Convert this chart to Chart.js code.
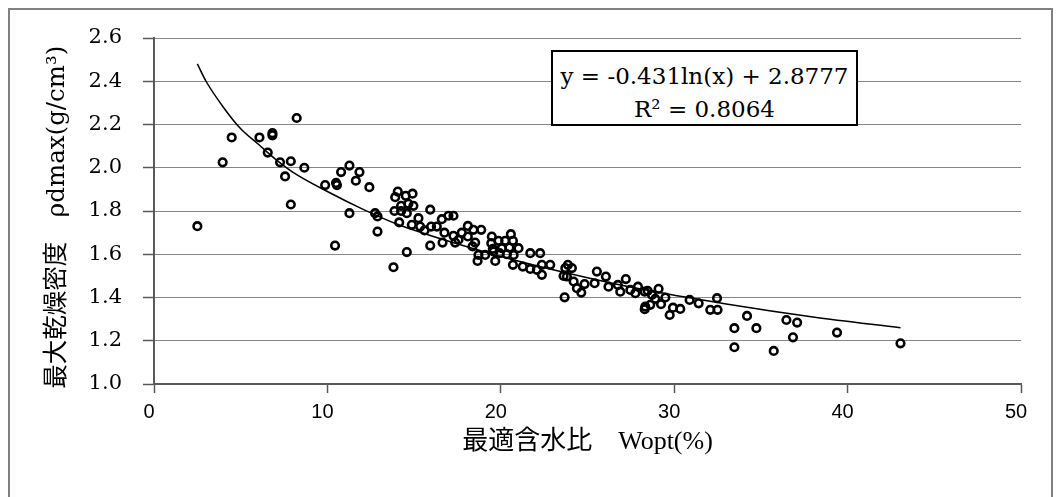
<!DOCTYPE html>
<html><head><meta charset="utf-8">
<script src="https://cdn.jsdelivr.net/npm/chart.js@4.4.0/dist/chart.umd.min.js"></script>
<style>
html,body{margin:0;padding:0;background:#fff;}
#wrap{position:relative;width:1061px;height:497px;overflow:hidden;background:#fff;}
#frame{position:absolute;left:8px;top:8px;width:1045px;height:495px;border:2px solid #808080;box-sizing:border-box;}
canvas{position:absolute;left:0;top:0;}
#eq{position:absolute;left:551px;top:50px;width:307px;height:76px;box-sizing:border-box;border:2px solid #000;background:#fff;font-family:'DejaVu Serif',serif;font-size:23px;line-height:33px;text-align:center;padding-top:8px;color:#000;white-space:nowrap;}
</style></head>
<body>
<div id="wrap">
<div id="frame"></div>
<canvas id="c" width="1061" height="497"></canvas>
<div id="eq"></div>
</div>
<script>
// Optimum water content Wopt (%)
const wopt = [2.5,3.96,4.48,6.08,6.56,6.83,6.83,7.27,7.56,7.89,
  7.89,8.23,8.67,9.87,10.44,10.5,10.55,10.79,11.27,11.27,
  11.64,11.85,12.42,12.75,12.89,12.89,13.81,13.87,13.91,14.06,
  14.14,14.25,14.25,14.52,14.58,14.58,14.67,14.87,14.91,14.96,
  15.25,15.35,15.6,15.93,15.93,15.98,16.31,16.6,16.64,16.75,
  16.98,17.27,17.27,17.37,17.56,17.75,18.1,18.1,18.37,18.42,
  18.52,18.66,18.71,18.87,19.1,19.45,19.48,19.54,19.58,19.68,
  19.87,19.93,20.06,20.25,20.35,20.5,20.58,20.7,20.74,20.7,
  21.02,21.27,21.7,21.7,22.08,22.27,22.37,22.37,22.85,23.62,
  23.68,23.72,23.81,23.87,24.1,24.2,24.39,24.64,24.83,25.41,
  25.54,26.06,26.21,26.75,26.89,27.21,27.47,27.76,27.91,28.3,
  28.3,28.33,28.47,28.62,28.72,28.91,29.1,29.24,29.49,29.74,
  29.93,30.35,30.89,31.41,32.08,32.47,32.5,33.47,33.47,34.2,
  34.74,35.74,36.47,36.85,37.09,39.39,43.05];
// Maximum dry density (g/cm3)
const rhoDmax = [1.73,2.025,2.14,2.14,2.07,2.16,2.15,2.025,1.96,2.03,
  1.83,2.23,2.0,1.92,1.64,1.93,1.92,1.98,2.01,1.79,
  1.94,1.98,1.91,1.79,1.775,1.705,1.54,1.80,1.864,1.89,
  1.747,1.824,1.80,1.87,1.79,1.61,1.833,1.736,1.88,1.824,
  1.767,1.728,1.71,1.806,1.64,1.728,1.728,1.762,1.654,1.70,
  1.778,1.778,1.685,1.654,1.667,1.70,1.731,1.682,1.636,1.713,
  1.654,1.569,1.597,1.713,1.597,1.651,1.682,1.625,1.613,1.569,
  1.662,1.605,1.628,1.662,1.60,1.631,1.693,1.662,1.597,1.551,
  1.628,1.543,1.605,1.532,1.528,1.605,1.551,1.505,1.551,1.50,
  1.401,1.536,1.497,1.551,1.536,1.474,1.443,1.423,1.462,1.466,
  1.52,1.497,1.45,1.458,1.427,1.485,1.435,1.42,1.45,1.427,
  1.346,1.358,1.431,1.366,1.412,1.394,1.44,1.369,1.40,1.319,
  1.353,1.347,1.389,1.373,1.343,1.397,1.343,1.258,1.17,1.315,
  1.258,1.153,1.296,1.216,1.284,1.238,1.188];
// Trend line
const trendX = [2.5,3,4,5,6,7,8,10,12,14,17,20,24,28,33,38,43.05];
const trendY = [2.48,2.40,2.28,2.18,2.11,2.04,1.98,1.89,1.81,1.74,1.66,1.59,1.51,1.44,1.37,1.31,1.26];
const xTickValues = [0,10,20,30,40,50];
const yTickValues = [1.0,1.2,1.4,1.6,1.8,2.0,2.2,2.4,2.6];
const xTitle = '最適含水比\u3000Wopt(%)';
const yTitle = '最大乾燥密度\u3000ρdmax(g/cm³)\u2002';
const equationLines = ['y = -0.431ln(x) + 2.8777', 'R² = 0.8064'];

document.getElementById('eq').innerHTML = equationLines.join('<br>');

const scatterPts = wopt.map((x, i) => ({x: x, y: rhoDmax[i]}));
const trendPts = trendX.map((x, i) => ({x: x, y: trendY[i]}));

new Chart(document.getElementById('c'), {
  type: 'scatter',
  data: {
    datasets: [
      {
        label: 'trend',
        data: trendPts,
        showLine: true,
        pointRadius: 0,
        borderColor: '#000',
        borderWidth: 1.5,
        cubicInterpolationMode: 'monotone',
        fill: false
      },
      {
        label: 'data',
        data: scatterPts,
        pointRadius: 3.8,
        pointBorderWidth: 2.6,
        pointBorderColor: '#000',
        pointBackgroundColor: 'rgba(255,255,255,0)',
        showLine: false
      }
    ]
  },
  options: {
    responsive: false,
    animation: false,
    devicePixelRatio: 1,
    layout: {padding: {left: 40, right: 40, top: 38, bottom: 0}},
    plugins: {legend: {display: false}, tooltip: {enabled: false}},
    scales: {
      x: {
        type: 'linear', min: 0, max: 50,
        afterBuildTicks: s => { s.ticks = xTickValues.map(v => ({value: v})); },
        afterFit: s => { s.height = 113; },
        ticks: {color: '#000', font: {family: "'Liberation Sans Narrow','Liberation Sans',sans-serif", size: 20}, padding: 7, labelOffset: -5, maxRotation: 0},
        grid: {drawOnChartArea: false, drawTicks: true, tickLength: 9, tickColor: '#595959', tickWidth: 1.5},
        border: {display: true, color: '#595959', width: 2},
        title: {display: true, text: xTitle, color: '#000', font: {family: "'Liberation Serif','Noto Sans CJK JP',serif", size: 26}, padding: {top: 0, bottom: 39}}
      },
      y: {
        type: 'linear', min: 1.0, max: 2.6,
        afterBuildTicks: s => { s.ticks = yTickValues.map(v => ({value: v})); },
        afterFit: s => { s.width = 114; },
        ticks: {color: '#000', font: {family: "'DejaVu Serif',serif", size: 21}, padding: 21, callback: v => v.toFixed(1)},
        grid: {color: '#868686', lineWidth: 1, drawTicks: true, tickLength: 11, tickColor: '#595959', tickWidth: 1.5},
        border: {display: true, color: '#595959', width: 2},
        title: {display: true, text: yTitle, color: '#000', font: {family: "'DejaVu Serif','Noto Sans CJK JP',serif", size: 24.5}, padding: {top: 3, bottom: 3}}
      }
    }
  }
});
</script>
</body></html>
